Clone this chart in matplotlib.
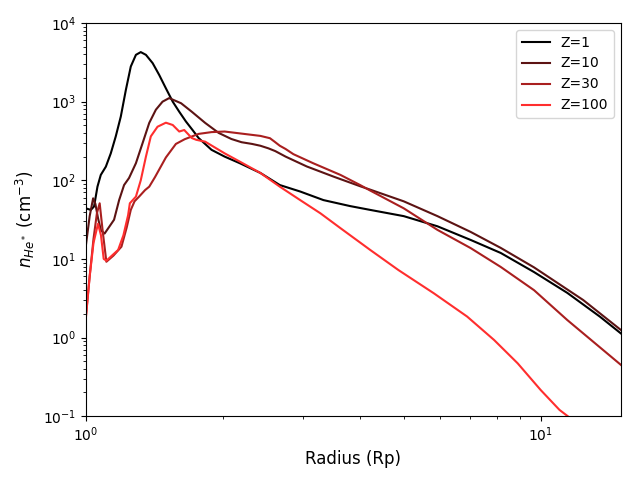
import numpy as np
from matplotlib import pyplot as plt

# radius (Rp) and density (cm^-3), one pair per run
r_z1 = [1.00, 1.026, 1.043, 1.061, 1.079, 1.107, 1.135, 1.164, 1.194, 1.225, 1.256, 1.289, 1.321,
        1.356, 1.403, 1.45, 1.50, 1.553, 1.605, 1.66, 1.72, 1.77, 1.89, 2.02, 2.18, 2.42, 2.67,
        2.96, 3.33, 3.81, 4.22, 5.0, 5.93, 7.02, 8.17, 9.67, 11.44, 13.5, 15.0]
n_z1 = [44, 42, 46.5, 83, 117, 149, 220, 362, 646, 1410, 2800, 3940, 4270,
        3940, 3090, 2190, 1480, 1000, 745, 560, 430, 345, 244, 200, 165, 124, 87,
        72, 56, 47, 42, 35, 26, 17.4, 11.9, 6.8, 3.7, 1.84, 1.13]

r_z10 = [1.00, 1.02, 1.038, 1.05, 1.064, 1.08, 1.10, 1.154, 1.184, 1.214, 1.245, 1.289, 1.333,
         1.379, 1.426, 1.475, 1.525, 1.578, 1.62, 1.71, 1.83, 1.96, 2.09, 2.20, 2.32, 2.42, 2.52,
         2.61, 2.75, 3.06, 3.51, 4.01, 4.22, 5.0, 5.93, 7.02, 8.17, 9.67, 12.4, 15.0]
n_z10 = [14.4, 35, 59, 50, 33, 23, 21, 31.5, 56, 87, 107, 165, 296,
         537, 790, 1000, 1110, 1020, 955, 745, 537, 400, 335, 305, 290, 275, 255,
         235, 200, 150, 111, 84, 76, 54, 35, 22, 13.8, 7.8, 3.0, 1.25]

r_z30 = [1.00, 1.02, 1.04, 1.058, 1.073, 1.09, 1.11, 1.15, 1.198, 1.23, 1.256, 1.28, 1.31,
         1.35, 1.379, 1.42, 1.50, 1.578, 1.65, 1.77, 1.89, 2.02, 2.18, 2.42, 2.54, 2.60, 2.67,
         2.75, 2.86, 3.16, 3.63, 4.01, 4.22, 5.0, 5.93, 7.02, 8.17, 9.67, 11.44, 15.0]
n_z30 = [1.8, 6, 18, 38, 51, 22, 9.2, 11, 14.3, 25, 42, 54, 62,
         75, 83, 110, 195, 290, 333, 389, 410, 417, 395, 367, 343, 310, 275,
         250, 215, 165, 117, 87, 74, 44, 23.4, 13.7, 7.9, 4.0, 1.67, 0.45]

r_z100 = [1.00, 1.02, 1.04, 1.064, 1.08, 1.095, 1.11, 1.178, 1.21, 1.239, 1.25, 1.289, 1.321,
          1.356, 1.39, 1.438, 1.50, 1.553, 1.605, 1.646, 1.71, 1.75, 1.83, 2.02, 2.18, 2.42,
          2.67, 2.96, 3.28, 3.63, 4.22, 4.87, 5.82, 6.89, 7.9, 8.9, 10.0, 11.0, 11.6]
n_z100 = [1.7, 6, 16, 28, 20, 10, 9.5, 13, 20, 36, 51, 62, 100,
          200, 362, 480, 540, 505, 417, 436, 345, 327, 310, 220, 173, 124,
          83, 56, 38, 24.6, 13, 7.2, 3.66, 1.85, 0.93, 0.47, 0.215, 0.12, 0.095]

labels = ['Z=1', 'Z=10', 'Z=30', 'Z=100']
colors = ['#000000', '#5c1313', '#a91f1f', '#ff2e2e']

radii = [r_z1, r_z10, r_z30, r_z100]
dens = [n_z1, n_z10, n_z30, n_z100]

fig, ax = plt.subplots(figsize=(6.4, 4.8), dpi=100)
for r, n, lab, c in zip(radii, dens, labels, colors):
    ax.plot(r, n, color=c, lw=1.5, label=lab)

ax.set_xscale('log')
ax.set_yscale('log')
ax.set_xlim(1, 15)
ax.set_ylim(1e-1, 1e4)
ax.set_xlabel('Radius (Rp)', fontsize=12)
ax.set_ylabel(r'$n_{He^*}$ (cm$^{-3}$)', fontsize=12)
ax.legend(loc='upper right')

fig.subplots_adjust(left=0.134, right=0.970, top=0.952, bottom=0.133)
fig.savefig('out.png')
